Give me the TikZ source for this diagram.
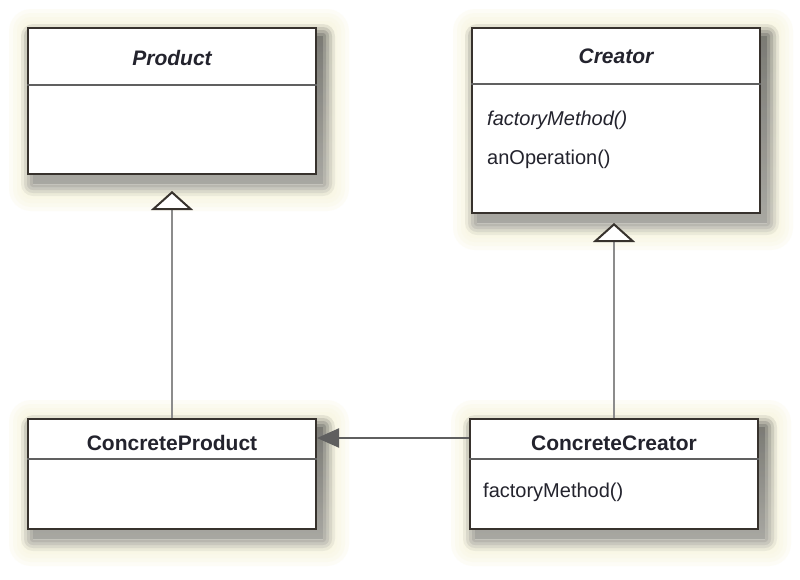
\documentclass[tikz,border=0pt]{standalone}
\usepackage{fontspec}
\setmainfont{Liberation Sans}
\usetikzlibrary{arrows.meta,backgrounds,calc}
\definecolor{shade}{RGB}{80,70,40}
\definecolor{cream}{RGB}{248,245,218}
\definecolor{border}{RGB}{55,50,45}
\definecolor{conn}{RGB}{140,140,140}
\definecolor{assoc}{RGB}{95,95,95}
\definecolor{txt}{RGB}{35,35,45}
\tikzset{
  umlbox/.style={draw=border, line width=2pt, fill=white, anchor=north west, inner sep=0pt},
  titletext/.style={font=\fontsize{21}{25}\selectfont\bfseries, text=txt, inner sep=0pt},
  optext/.style={font=\fontsize{20}{24}\selectfont, text=txt, anchor=west, inner sep=0pt},
  divider/.style={draw=gray!75!black, line width=2.2pt},
  inherit/.style={draw=conn, line width=2.2pt,
    -{Triangle[length=19pt, width=42pt, line width=2pt, color=border, fill=white]}},
  assocline/.style={draw=assoc, line width=2.2pt,
    -{Triangle[length=22pt, width=19pt, color=assoc]}},
}
\newcommand{\boxdeco}[1]{%
  \foreach \h in {22,18,14,10,6} {%
    \fill[cream, opacity=0.22, rounded corners=\h pt] ($(#1.north west)+(-\h+4,-\h+4)$) rectangle ($(#1.south east)+(\h+10,\h+14)$);
  }%
  \foreach \k/\o in {12/0.05,9/0.08,6/0.1,3/0.13,0/0.18} {%
    \fill[shade, opacity=\o, rounded corners=\k pt] ($(#1.north west)+(6-\k,9-\k)$) rectangle ($(#1.south east)+(6+\k,9+\k)$);
  }%
}
\begin{document}
\begin{tikzpicture}[x=1pt,y=-1pt]
\useasboundingbox (0,0) rectangle (800,579);

% boxes
\node[umlbox, minimum width=288pt, minimum height=146pt] (product) at (27,27) {};
\node[umlbox, minimum width=288pt, minimum height=185pt] (creator) at (471,27) {};
\node[umlbox, minimum width=288pt, minimum height=110pt] (cproduct) at (27,418) {};
\node[umlbox, minimum width=288pt, minimum height=110pt] (ccreator) at (469,418) {};

\begin{scope}[on background layer]
  \fill[white] (0,0) rectangle (800,579);
  \boxdeco{product}
  \boxdeco{creator}
  \boxdeco{cproduct}
  \boxdeco{ccreator}
\end{scope}

% titles
\node[titletext, font=\fontsize{21}{25}\selectfont\bfseries\itshape] (productT) at ($(product.north)+(0,31)$) {Product};
\node[titletext, font=\fontsize{21}{25}\selectfont\bfseries\itshape] (creatorT) at ($(creator.north)+(0,29)$) {Creator};
\node[titletext] (cproductT) at ($(cproduct.north)+(0,25)$) {ConcreteProduct};
\node[titletext] (ccreatorT) at ($(ccreator.north)+(0,25)$) {ConcreteCreator};

% dividers
\draw[divider] ($(product.north west)+(0,58)$) -- ($(product.north east)+(0,58)$);
\draw[divider] ($(creator.north west)+(0,57)$) -- ($(creator.north east)+(0,57)$);
\draw[divider] ($(cproduct.north west)+(0,41)$) -- ($(cproduct.north east)+(0,41)$);
\draw[divider] ($(ccreator.north west)+(0,41)$) -- ($(ccreator.north east)+(0,41)$);

% operations
\node[optext, font=\fontsize{20}{24}\selectfont\itshape] (fmA) at ($(creator.north west)+(16,93)$) {factoryMethod()};
\node[optext] (anOp) at ($(creator.north west)+(16,132)$) {anOperation()};
\node[optext] (fmB) at ($(ccreator.north west)+(14,74)$) {factoryMethod()};

% connectors
\draw[inherit, shorten >=16pt] (cproduct.north) -- (cproduct.north |- product.south);
\draw[inherit, shorten >=9pt] (ccreator.north) -- (ccreator.north |- creator.south);
\draw[assocline] (ccreator.west |- 0,438) -- (cproduct.east |- 0,438);
\end{tikzpicture}
\end{document}
